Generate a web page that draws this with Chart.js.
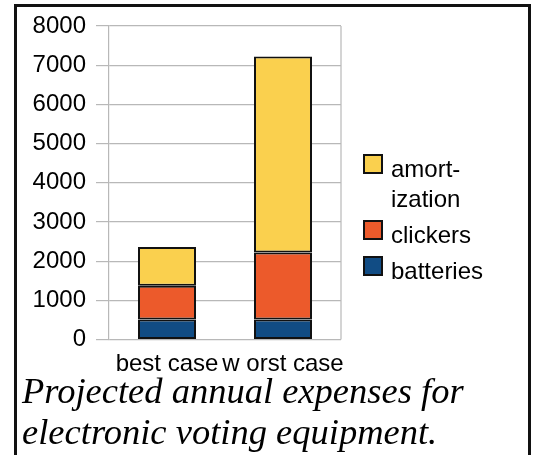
<!DOCTYPE html>
<html>
<head>
<meta charset="utf-8">
<script src="https://cdn.jsdelivr.net/npm/chart.js@4/dist/chart.umd.min.js"></script>
<style>
  html, body { margin: 0; padding: 0; background: #fff; }
  #wrap { position: relative; width: 535px; height: 455px; overflow: hidden; }
  #frame { position: absolute; left: 14px; top: 4px; width: 517px; height: 500px; border: 3px solid #111; box-sizing: border-box; }
  #c { position: absolute; left: 0; top: 0; }
  #caption { position: absolute; left: 22px; top: 370px; font-family: "Liberation Serif", "DejaVu Serif", serif; font-style: italic; font-size: 36.5px; line-height: 41px; color: #000; white-space: nowrap; }
</style>
</head>
<body>
<div id="wrap">
  <div id="frame"></div>
  <canvas id="c" width="535" height="455"></canvas>
  <div id="caption">Projected annual expenses for<br>electronic voting equipment.</div>
</div>
<script>
const categories = ["best case", "w orst case"];
const seriesNames = ["batteries", "clickers", "amort-ization"];
const batteries = [510, 510];
const clickers = [860, 1710];
const amortization = [990, 5000];
const yTicks = [0, 1000, 2000, 3000, 4000, 5000, 6000, 7000, 8000];
const colors = ["#114c84", "#ec5a2b", "#fad04e"];

const legendPlugin = {
  id: 'customLegend',
  afterDraw(chart) {
    const ctx = chart.ctx;
    const ds = chart.data.datasets;
    ctx.save();
    ctx.font = '24px "Liberation Sans", Arial, sans-serif';
    ctx.textBaseline = 'alphabetic';
    ctx.textAlign = 'left';
    let baseline = 177;
    for (let i = ds.length - 1; i >= 0; i--) {
      const lbl = ds[i].label;
      const lines = lbl.includes('-') ? [lbl.slice(0, lbl.indexOf('-') + 1), lbl.slice(lbl.indexOf('-') + 1)] : [lbl];
      ctx.fillStyle = ds[i].backgroundColor;
      ctx.fillRect(364, baseline - 22, 18, 18);
      ctx.lineWidth = 2;
      ctx.strokeStyle = '#111';
      ctx.strokeRect(364, baseline - 22, 18, 18);
      ctx.fillStyle = '#000';
      lines.forEach((ln, k) => ctx.fillText(ln, 391, baseline + k * 30));
      baseline += (lines.length - 1) * 30 + 36;
    }
    ctx.restore();
  }
};

const borderPlugin = {
  id: 'areaBorder',
  beforeDatasetsDraw(chart) {
    const a = chart.chartArea;
    const ctx = chart.ctx;
    ctx.save();
    ctx.strokeStyle = '#b8b8b8';
    ctx.lineWidth = 1.2;
    ctx.beginPath();
    ctx.moveTo(a.right, a.top);
    ctx.lineTo(a.right, a.bottom);
    ctx.stroke();
    ctx.restore();
  }
};

new Chart(document.getElementById('c'), {
  type: 'bar',
  data: {
    labels: categories,
    datasets: [
      { label: seriesNames[0], data: batteries, backgroundColor: colors[0] },
      { label: seriesNames[1], data: clickers, backgroundColor: colors[1] },
      { label: seriesNames[2], data: amortization, backgroundColor: colors[2] }
    ].map(d => Object.assign(d, { borderColor: '#111', borderWidth: 2, borderSkipped: false, barPercentage: 0.5, categoryPercentage: 1.0 }))
  },
  options: {
    responsive: false,
    animation: false,
    devicePixelRatio: 1,
    layout: { padding: { left: 0, top: 26, right: 194, bottom: 75.5 } },
    plugins: { legend: { display: false }, tooltip: { enabled: false }, title: { display: false } },
    scales: {
      x: {
        stacked: true,
        grid: { display: false },
        border: { display: false },
        ticks: { font: { family: '"Liberation Sans", Arial, sans-serif', size: 24 }, color: '#000', padding: 2, maxRotation: 0, autoSkip: false },
        afterFit(s) { s.height = 40; }
      },
      y: {
        stacked: true,
        min: 0, max: 8000,
        afterBuildTicks(s) { s.ticks = yTicks.map(v => ({ value: v })); },
        grid: { color: '#b8b8b8', lineWidth: 1.2, tickLength: 13, tickColor: '#b8b8b8' },
        border: { color: '#b8b8b8', width: 1.2 },
        ticks: { font: { family: '"Liberation Sans", Arial, sans-serif', size: 24 }, color: '#000', padding: 10, callback: v => String(v) },
        afterFit(s) { s.width = 109; }
      }
    }
  },
  plugins: [borderPlugin, legendPlugin]
});
</script>
</body>
</html>
